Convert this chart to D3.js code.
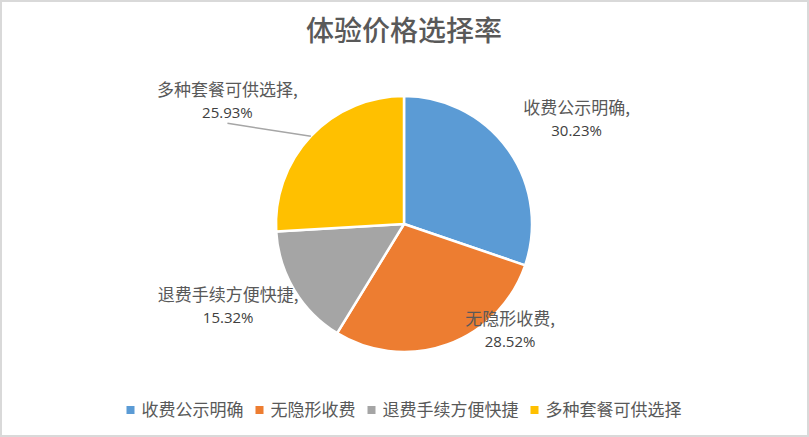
<!doctype html>
<html lang="zh">
<head>
<meta charset="utf-8">
<title>体验价格选择率</title>
<script src="https://cdn.jsdelivr.net/npm/d3@7/dist/d3.min.js"></script>
<style>
  body { margin: 0; background: #fff; }
  svg { display: block; }
  .cn { font-family: "Noto Sans CJK SC", sans-serif; fill: #595959; }
  .num { font-family: "Open Sans", "Noto Sans", sans-serif; fill: #404040; }
</style>
</head>
<body>
<script>
    // data
    var categories = ["收费公示明确", "无隐形收费", "退费手续方便快捷", "多种套餐可供选择"];
    var values = [30.23, 28.52, 15.32, 25.93];
    var colors = ["#5B9BD5", "#ED7D31", "#A5A5A5", "#FFC000"];

    // label placement: angle (deg, clockwise from top) and distance from the pie centre
    var labelAngle = [58.7, 135, 245, 304.8];
    var labelDist = [202, 150, 194, 215];

    var width = 809, height = 437;
    var cx = 404, cy = 224, radius = 128;

    var svg = d3.select("body").append("svg")
            .attr("width", width).attr("height", height);

    svg.append("rect")
        .attr("x", 1).attr("y", 1)
        .attr("width", width - 2).attr("height", height - 2)
        .attr("fill", "#fff")
        .attr("stroke", "#d9d9d9").attr("stroke-width", 2);

    svg.append("text")
        .attr("class", "cn")
        .attr("x", cx).attr("y", 41)
        .attr("text-anchor", "middle")
        .style("font-size", "28px")
        .style("font-weight", 500)
        .text("体验价格选择率");

    var table = categories.map(function(c, i){ return {name: c, value: values[i], color: colors[i]}; });

    var pie = d3.pie().sort(null).value(function(d){ return d.value; });
    var arc = d3.arc().innerRadius(0).outerRadius(radius);
    var arcs = pie(table);

    var g = svg.append("g").attr("transform", "translate(" + cx + "," + cy + ")");

    g.selectAll("path")
        .data(arcs)
        .enter().append("path")
        .attr("d", arc)
        .attr("fill", function(d){ return d.data.color; })
        .attr("stroke", "#fff")
        .attr("stroke-width", 2.5)
        .attr("stroke-linejoin", "round");

    function polar(angDeg, r) {
        var a = angDeg * Math.PI / 180;
        return [r * Math.sin(a), -r * Math.cos(a)];
    }

    // leader line for the yellow slice
    var yi = 3;
    var mid = (arcs[yi].startAngle + arcs[yi].endAngle) / 2 * 180 / Math.PI;
    var lp = polar(labelAngle[yi], labelDist[yi]);
    var ep = polar(mid, radius);
    g.append("line")
        .attr("x1", lp[0]).attr("y1", lp[1] + 22)
        .attr("x2", ep[0]).attr("y2", ep[1])
        .attr("stroke", "#a6a6a6").attr("stroke-width", 1.5);

    var labels = g.selectAll("g.lbl")
        .data(arcs)
        .enter().append("g")
        .attr("class", "lbl")
        .attr("transform", function(d, i){
            var p = polar(labelAngle[i], labelDist[i]);
            return "translate(" + p[0] + "," + p[1] + ")";
        });

    labels.append("text")
        .attr("class", "cn")
        .attr("text-anchor", "middle")
        .attr("y", -5)
        .style("font-size", "17px")
        .text(function(d){ return d.data.name + ","; });

    labels.append("text")
        .attr("class", "num")
        .attr("text-anchor", "middle")
        .attr("y", 17)
        .style("font-size", "15px")
        .text(function(d){ return d.data.value.toFixed(2) + "%"; });

    // legend
    var legend = svg.append("g");
    var items = legend.selectAll("g")
        .data(table)
        .enter().append("g");
    items.append("rect")
        .attr("width", 8).attr("height", 8)
        .attr("y", -4)
        .attr("fill", function(d){ return d.color; });
    items.append("text")
        .attr("class", "cn")
        .attr("x", 15)
        .attr("y", 6)
        .style("font-size", "17px")
        .text(function(d){ return d.name; });

    var xpos = 0;
    items.each(function(){
        var w = d3.select(this).select("text").node().getComputedTextLength();
        d3.select(this).attr("transform", "translate(" + xpos + ",0)");
        xpos += 15 + w + 12;
    });
    var total = xpos - 12;
    legend.attr("transform", "translate(" + (cx - total / 2) + ",410)");
</script>
</body>
</html>
